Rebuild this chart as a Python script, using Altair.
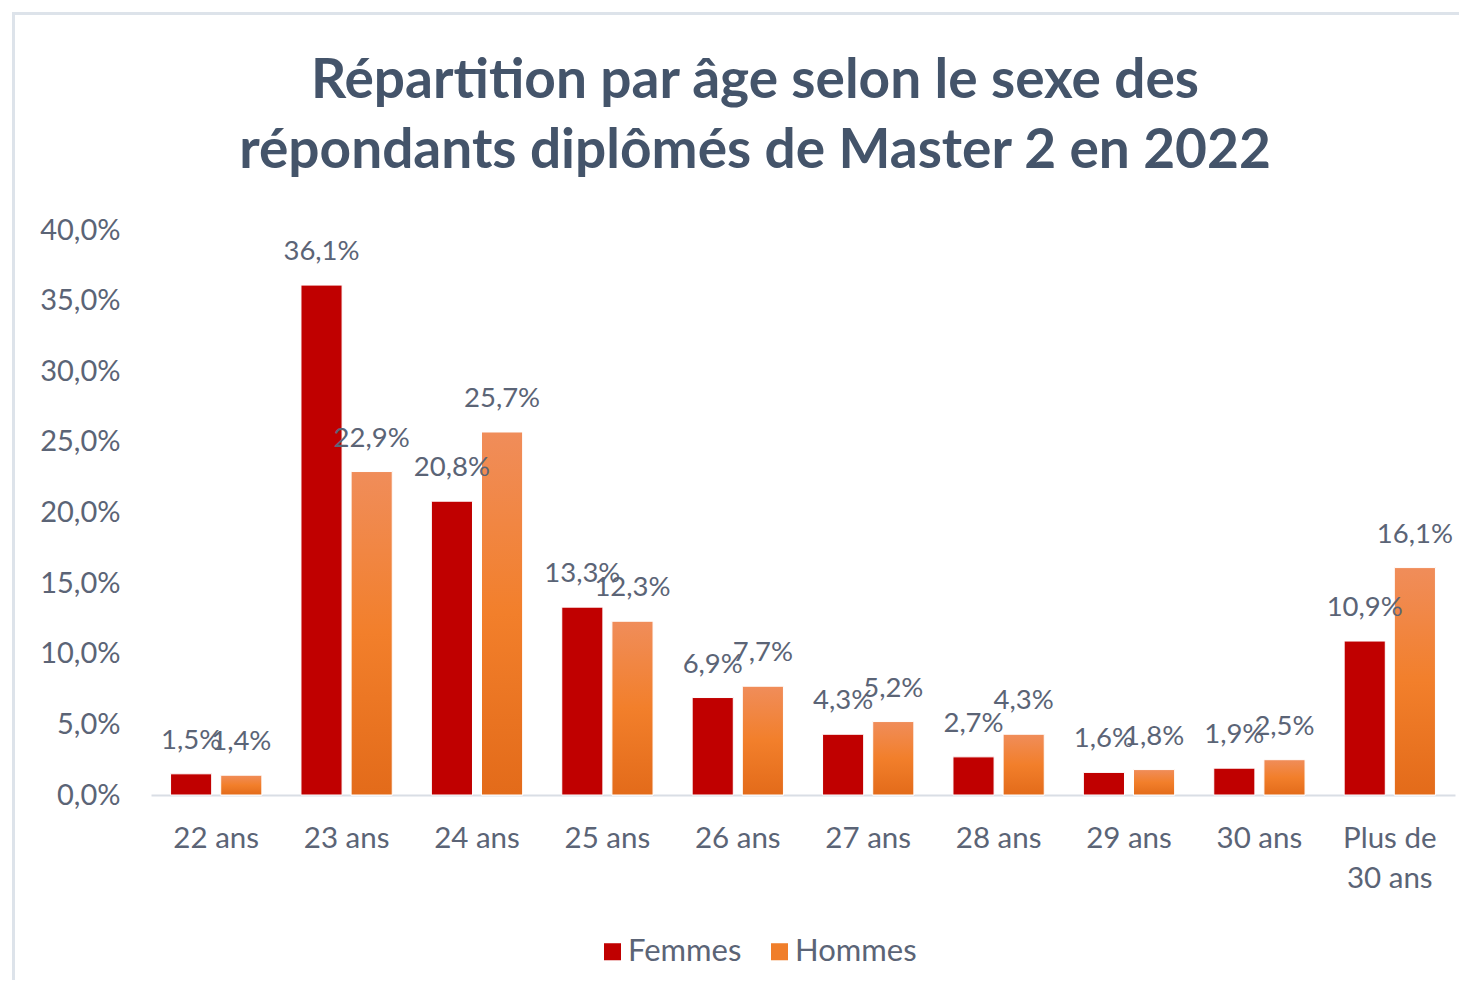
import altair as alt
import pandas as pd

categories = ["22 ans", "23 ans", "24 ans", "25 ans", "26 ans", "27 ans",
              "28 ans", "29 ans", "30 ans", "Plus de 30 ans"]
femmes = [1.5, 36.1, 20.8, 13.3, 6.9, 4.3, 2.7, 1.6, 1.9, 10.9]
hommes = [1.4, 22.9, 25.7, 12.3, 7.7, 5.2, 4.3, 1.8, 2.5, 16.1]
series = ["Femmes", "Hommes"]
y_ticks = [0, 5, 10, 15, 20, 25, 30, 35, 40]
title_lines = ["Répartition par âge selon le sexe des",
               "répondants diplômés de Master 2 en 2022"]

rows = []
for c, f, h in zip(categories, femmes, hommes):
    rows.append({"age": c, "sexe": series[0], "valeur": f})
    rows.append({"age": c, "sexe": series[1], "valeur": h})
df = pd.DataFrame(rows)

FONT = "Lato"
TXT = "#5B6476"
RED = "#C00000"
ORANGE = "#F07E2A"

x_enc = alt.X("age:N", sort=categories,
              scale=alt.Scale(paddingInner=0.3, paddingOuter=0.15),
              axis=alt.Axis(title=None, labelAngle=0, tickSize=0, labelPadding=29,
                            domainColor="#D9DEE5", domainWidth=2,
                            labelFont=FONT, labelFontSize=29.5, labelColor=TXT,
                            labelLineHeight=40,
                            labelExpr="datum.label === 'Plus de 30 ans' ? ['Plus de', '30 ans'] : datum.label"))
y_enc = alt.Y("valeur:Q", scale=alt.Scale(domain=[0, 40], nice=False),
              axis=alt.Axis(title=None, values=y_ticks, grid=False, domain=False, ticks=False,
                            labelPadding=31, labelFont=FONT, labelFontSize=29, labelColor=TXT,
                            labelExpr="replace(format(datum.value, '.1f'), '.', ',') + '%'"))
xo_enc = alt.XOffset("sexe:N", sort=series, scale=alt.Scale(paddingInner=0.18, paddingOuter=0))

base = alt.Chart(df)

bars = base.mark_bar(stroke="white", strokeWidth=1).encode(
    x=x_enc, y=y_enc, xOffset=xo_enc,
    color=alt.Color("sexe:N", sort=series,
                    scale=alt.Scale(domain=series, range=[RED, ORANGE]),
                    legend=alt.Legend(title=None, orient="none", direction="horizontal",
                                      legendX=446, legendY=706,
                                      symbolType="square", symbolSize=290,
                                      symbolStrokeWidth=0, columnPadding=22,
                                      labelFont=FONT, labelFontSize=31, labelColor=TXT,
                                      labelOffset=0)),
)

grad = alt.Gradient(gradient="linear",
                    stops=[alt.GradientStop(color="#F08D5A", offset=0),
                           alt.GradientStop(color="#F27F2B", offset=0.5),
                           alt.GradientStop(color="#E36B1A", offset=1)],
                    x1=1, x2=1, y1=0, y2=1)

bars_h = base.transform_filter(alt.datum.sexe == "Hommes").mark_bar(
    color=grad, stroke="white", strokeWidth=1).encode(
    x=x_enc, y=y_enc, xOffset=xo_enc)

labels = base.transform_calculate(
    lab="replace(format(datum.valeur, '.1f'), '.', ',') + '%'"
).mark_text(font=FONT, fontSize=27.5, color=TXT, baseline="middle", align="center", dy=-33).encode(
    x=x_enc, y=y_enc, xOffset=xo_enc, text="lab:N")

border_top = alt.Chart(df).mark_rule(color="#DDE3EA", strokeWidth=3).encode(
    x=alt.value(-138), x2=alt.value(1320), y=alt.value(-216.5))
border_left = alt.Chart(df).mark_rule(color="#DDE3EA", strokeWidth=3).encode(
    x=alt.value(-137.5), y=alt.value(-218), y2=alt.value(760))

chart = alt.layer(border_top, border_left, bars, bars_h, labels).properties(
    width=1304, height=565,
    autosize=alt.AutoSizeParams(type="none"),
    padding={"left": 143, "top": 222, "right": 4, "bottom": 185},
    title=alt.TitleParams(text=title_lines, font=FONT, fontSize=55, fontWeight="bold",
                          color="#44546A", anchor="middle", frame="group",
                          lineHeight=70, dx=-48, offset=40, dy=209),
).configure_view(stroke=None)

chart.save("out.html", embed_options={"renderer": "svg", "actions": False})
